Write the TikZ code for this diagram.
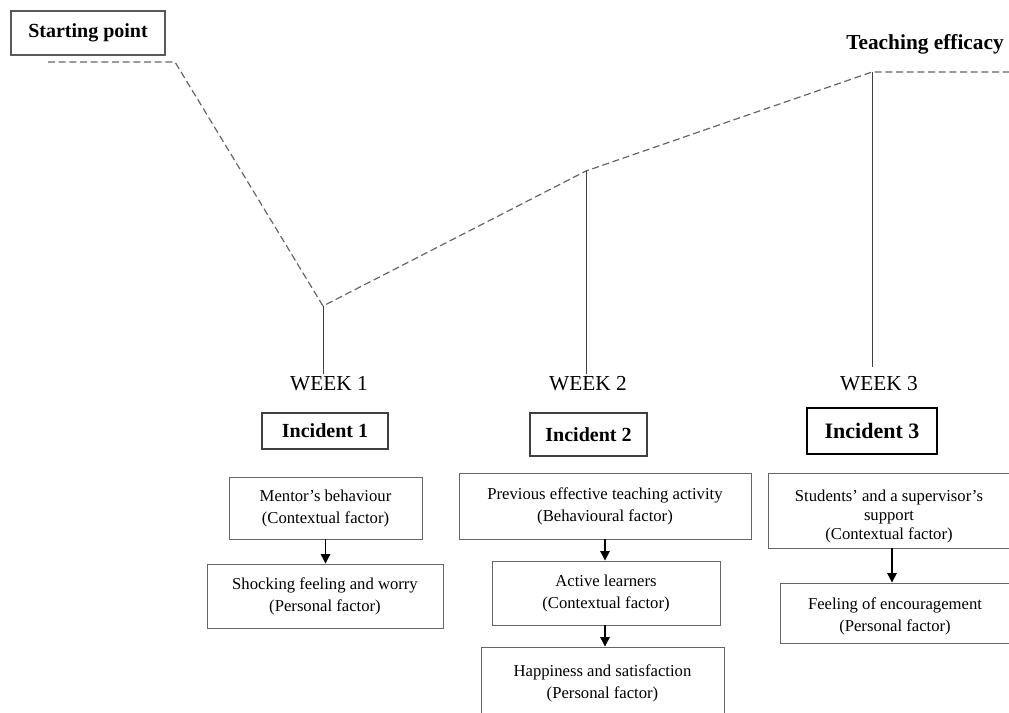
\documentclass[tikz,border=0pt]{standalone}
\usepackage{fontspec}
\setmainfont{Liberation Serif}
\usetikzlibrary{arrows.meta}
\tikzset{
  fbox/.style={draw=black!60, line width=0.7pt, inner sep=0pt, align=center,
    font=\fontsize{12.5}{16.5}\selectfont},
  incbox/.style={draw=black!75, line width=0.8pt, inner sep=0pt,
    font=\fontsize{15}{18}\selectfont\bfseries},
  weeklbl/.style={inner sep=2pt, font=\fontsize{16}{18}\selectfont},
  trend/.style={draw=black!60, line width=0.9pt, dash pattern=on 5.25pt off 2.75pt},
  stem/.style={draw=black!75, line width=0.7pt},
  flow/.style={draw=black, line width=0.9pt, -{Triangle[length=7pt,width=7pt]}}
}
\begin{document}
\begin{tikzpicture}[x=0.75pt,y=-0.75pt]
\useasboundingbox (0,0) rectangle (1009,713);
\clip (0,0) rectangle (1009,713);

% title nodes
\node[draw=black!65, line width=0.8pt, minimum width=115.5pt, minimum height=33pt, inner sep=0pt,
  font=\fontsize{15}{18}\selectfont\bfseries] (start) at (88,33) {Starting point};
\node[inner sep=0pt, font=\fontsize{16}{19}\selectfont\bfseries] (eff) at (925,44) {Teaching efficacy};

% trend line
\coordinate (s0) at (48,62);
\coordinate (s1) at (175,62);
\coordinate (v1) at (323,306);
\coordinate (v2) at (586,171);
\coordinate (v3) at (872,72);
\coordinate (e0) at (1009,72);
\draw[trend] (s0) -- (s1) -- (v1) -- (v2) -- (v3) -- (e0);

% weeks
\node[weeklbl] (w1) at (329,384) {WEEK 1};
\node[weeklbl] (w2) at (588,384) {WEEK 2};
\node[weeklbl] (w3) at (879,384) {WEEK 3};
\draw[stem] (v1) -- (v1 |- w1.north);
\draw[stem] (v2) -- (v2 |- w2.north);
\draw[stem] (v3) -- ([yshift=5pt]v3 |- w3.north);

% incidents
\node[incbox, minimum width=94.5pt, minimum height=27pt] (i1) at (325,431) {Incident 1};
\node[incbox, minimum width=87.75pt, minimum height=32.25pt] (i2) at (588.5,434.5) {Incident 2};
\node[draw=black, line width=1.5pt, inner sep=0pt, minimum width=97.5pt, minimum height=34.5pt,
  font=\fontsize{16.5}{19}\selectfont\bfseries] (i3) at (872,431) {Incident 3};

% week 1 factors
\node[fbox, minimum width=144.75pt, minimum height=46.5pt] (m1) at (325.5,508)
  {Mentor’s behaviour\\(Contextual factor)};
\node[fbox, minimum width=177pt, minimum height=48pt] (m2) at (325,596)
  {Shocking feeling and worry\\(Personal factor)};
\draw[flow] (m1.south) -- (m1.south |- m2.north);

% week 2 factors
\node[fbox, minimum width=219pt, minimum height=49.5pt] (p1) at (605,506)
  {Previous effective teaching activity\\(Behavioural factor)};
\node[fbox, minimum width=171pt, minimum height=48pt] (p2) at (606,593)
  {\rule{0pt}{10pt}Active learners\\(Contextual factor)};
\node[fbox, minimum width=182.25pt, minimum height=54.75pt] (p3) at (602.5,683.5)
  {Happiness and satisfaction\\(Personal factor)};
\draw[flow] (p1.south) -- (p1.south |- p2.north);
\draw[flow] (p1.south |- p2.south) -- (p1.south |- p3.north);

% week 3 factors
\node[fbox, minimum width=181.5pt, minimum height=56.25pt,
  font=\fontsize{12.5}{14.5}\selectfont] (q1) at (889,510.5)
  {\rule{0pt}{17.5pt}Students’ and a supervisor’s\\support\\(Contextual factor)};
\node[fbox, minimum width=172.5pt, minimum height=45pt] (q2) at (895,613)
  {\rule{0pt}{14.5pt}Feeling of encouragement\\(Personal factor)};
\draw[flow] ([xshift=-2.25pt]q2.north |- q1.south) -- ([xshift=-2.25pt]q2.north);
\end{tikzpicture}
\end{document}
